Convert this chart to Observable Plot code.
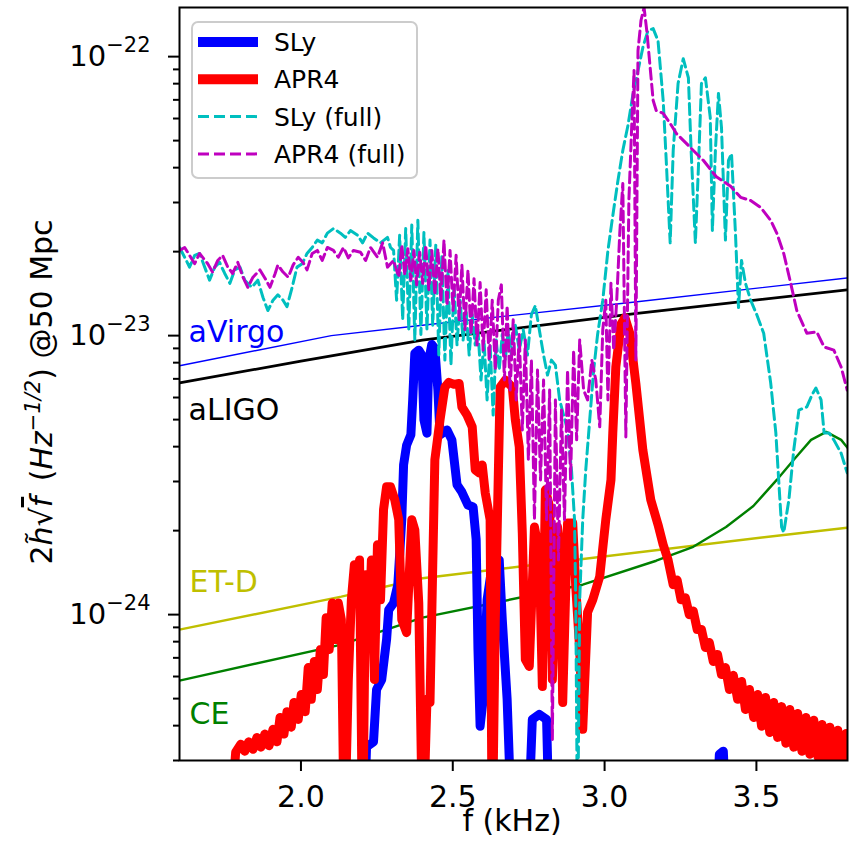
<!DOCTYPE html>
<html><head><meta charset="utf-8">
<script src="https://cdn.jsdelivr.net/npm/d3@7"></script>
<script src="https://cdn.jsdelivr.net/npm/@observablehq/plot@0.6"></script>
<style>
html,body{margin:0;padding:0;background:#fff;}
svg{display:block;}
</style>
</head><body><div id="chart"></div>
<script>
// strain values are stored in units of 1e-24; frequency in kHz
const UNIT = 1e-24;

const xTicks = [2.0, 2.5, 3.0, 3.5];
const yMajorTicks = [1e-24, 1e-23, 1e-22];
const yMinorTicks = [3e-25,4e-25,5e-25,6e-25,7e-25,8e-25,9e-25,
  2e-24,3e-24,4e-24,5e-24,6e-24,7e-24,8e-24,9e-24,
  2e-23,3e-23,4e-23,5e-23,6e-23,7e-23,8e-23,9e-23];

// detector sensitivity curves [f, h]
const aVirgo = [[1.6,7.8],[2.1,10.0],[2.4,10.9],[3.1,13.2],[3.8,16.1]];
const aLIGO = [[1.6,6.77],[2.0,8.1],[2.4,9.64],[3.1,12.0],[3.8,14.6]];
const etD = [[1.6,0.884],[2.133,1.16],[2.4,1.35],[3.59,1.93],[3.8,2.05]];
const ce = [[1.6,0.58],[2.133,0.781],[2.4,0.975],[2.928,1.28],[3.17,1.56],[3.292,1.75],[3.40,2.06],
  [3.49,2.45],[3.567,3.04],[3.623,3.59],[3.68,4.23],[3.73,4.52],[3.779,4.23],[3.812,3.82]];

// SLy (post-merger)
const sly = [[2.206,0.15],[2.216,0.336],[2.239,0.350],[2.249,0.539],[2.266,0.585],[2.282,0.814],[2.289,1.04],
  [2.305,1.10],[2.319,1.28],[2.332,2.19],[2.338,3.44],[2.348,4.05],[2.362,4.41],[2.368,5.88],[2.375,8.65],
  [2.388,8.87],[2.398,8.52],[2.405,4.99],[2.415,4.47],[2.421,8.17],[2.431,9.3],[2.441,9.0],[2.451,6.38],
  [2.458,4.41],[2.481,4.59],[2.497,4.23],[2.514,2.92],[2.530,2.75],[2.550,2.47],[2.567,2.43],[2.577,1.86],
  [2.583,0.750],[2.590,0.398],[2.600,0.497],[2.613,1.13],[2.630,1.51],[2.653,1.57],[2.663,0.96],[2.679,0.497],
  [2.696,0.15],[2.746,0.15],[2.762,0.421],[2.785,0.439],[2.809,0.421],[2.819,0.15],[3.365,0.15],[3.378,0.316],
  [3.391,0.324],[3.405,0.15]];

// APR4 (post-merger)
const apr4 = [[1.762,0.15],[1.785,0.321],[1.802,0.343],[1.815,0.324],[1.828,0.350],[1.842,0.329],[1.855,0.363],
  [1.868,0.335],[1.881,0.373],[1.895,0.339],[1.908,0.388],[1.921,0.350],[1.931,0.428],[1.944,0.373],[1.954,0.449],
  [1.968,0.395],[1.977,0.484],[1.991,0.421],[2.001,0.517],[2.014,0.449],[2.024,0.646],[2.034,0.497],[2.044,0.679],
  [2.054,0.539],[2.064,0.750],[2.074,0.610],[2.083,0.975],[2.093,0.750],[2.103,1.10],[2.113,0.814],[2.123,1.10],
  [2.133,0.96],[2.143,0.15],[2.156,0.585],[2.166,1.13],[2.176,1.51],[2.186,1.13],[2.193,1.57],[2.203,0.15],
  [2.213,1.39],[2.223,0.814],[2.232,1.57],[2.242,0.585],[2.252,1.78],[2.262,1.13],[2.272,2.38],[2.282,2.87],
  [2.295,2.87],[2.309,2.58],[2.322,2.19],[2.332,0.96],
  [2.348,0.862],[2.365,2.19],[2.375,2.01],[2.388,1.10],[2.401,0.15],[2.415,0.497],[2.425,0.484],[2.441,3.59],
  [2.458,4.99],[2.474,6.54],[2.487,6.80],[2.504,6.69],[2.521,6.74],[2.530,5.55],[2.547,5.19],[2.564,4.71],
  [2.574,3.30],[2.587,3.22],[2.597,3.44],[2.607,2.73],[2.623,2.19],[2.630,0.15],[2.640,0.96],[2.646,1.96],
  [2.656,6.54],[2.673,6.93],[2.696,6.54],[2.706,4.99],[2.719,3.99],[2.729,1.96],[2.739,0.690],[2.752,0.652],
  [2.769,2.06],[2.785,1.66],[2.795,0.552],[2.805,2.80],[2.819,2.43],[2.828,0.585],[2.845,2.06],[2.855,1.66],
  [2.862,0.484],[2.878,2.13],[2.895,2.13],[2.905,1.26],[2.918,0.750],[2.928,0.388],[2.944,1.02],[2.961,1.13],
  [2.984,1.37],[3.004,2.19],[3.021,3.04],[3.027,4.47],[3.037,7.72],[3.054,11.0],[3.067,11.6],[3.083,10.2],
  [3.103,6.74],[3.126,3.89],[3.152,2.58],[3.176,2.10],[3.193,1.78],[3.209,1.57],[3.226,1.28],[3.239,1.33],
  [3.252,1.13],[3.266,1.15],[3.279,1.00],[3.292,1.03],[3.305,0.884],[3.319,0.884],[3.332,0.762],[3.345,0.794],
  [3.358,0.679],[3.372,0.720],[3.385,0.610],[3.398,0.646],[3.411,0.539],[3.424,0.606],[3.438,0.497],[3.451,0.576],
  [3.464,0.457],[3.477,0.539],[3.491,0.428],[3.504,0.517],[3.517,0.398],[3.530,0.505],[3.544,0.378],[3.557,0.484],
  [3.570,0.363],[3.583,0.468],[3.597,0.346],[3.610,0.457],[3.623,0.335],[3.636,0.442],[3.650,0.324],[3.663,0.428],
  [3.676,0.316],[3.689,0.418],[3.703,0.309],[3.716,0.404],[3.729,0.303],[3.742,0.395],[3.755,0.296],[3.768,0.385],
  [3.782,0.290],[3.795,0.375],[3.812,0.285]];

// SLy (full waveform)
const slyFull = [[1.600,20.7],[1.617,19.1],[1.633,17.6],[1.650,19.4],[1.666,19.7],[1.683,17.6],[1.699,15.8],
  [1.716,17.6],[1.732,18.3],[1.749,16.7],[1.766,15.4],[1.782,17.2],[1.799,17.6],[1.815,15.8],[1.838,14.9],
  [1.858,15.8],[1.875,13.7],[1.891,12.3],[1.908,13.4],[1.924,14.0],[1.941,13.4],[1.954,12.7],[1.971,14.9],
  [1.987,17.6],[2.004,18.1],[2.020,19.7],[2.037,20.7],[2.054,22.0],[2.070,21.5],[2.087,23.3],[2.107,24.2],
  [2.130,23.3],[2.146,22.5],[2.163,23.8],[2.186,22.9],[2.203,21.5],[2.219,23.3],[2.239,22.4],[2.262,21.5],
  [2.285,22.5],[2.295,20.7],[2.305,20.2],[2.315,13.4],[2.325,22.9],[2.335,11.4],[2.345,24.2],[2.355,10.5],
  [2.365,24.9],[2.375,9.64],[2.385,25.9],[2.395,10.1],[2.405,23.4],[2.415,10.5],[2.425,22.0],[2.434,10.9],
  [2.444,21.1],[2.454,8.52],[2.464,19.4],[2.474,8.17],[2.484,17.2],[2.494,7.84],[2.504,15.2],[2.514,9.25],
  [2.524,13.4],[2.534,9.64],[2.544,12.3],[2.554,8.52],[2.564,11.9],[2.574,9.25],[2.583,10.5],[2.593,6.93],
  [2.603,9.64],[2.613,5.88],[2.623,9.25],[2.633,5.19],[2.643,9.64],[2.653,7.53],[2.663,10.1],[2.673,8.17],
  [2.683,10.5],[2.693,8.52],[2.706,10.9],[2.719,8.87],[2.732,10.5],[2.746,8.52],[2.759,11.9],[2.772,12.8],
  [2.785,10.5],[2.799,8.52],[2.812,7.22],[2.825,8.17],[2.838,7.84],[2.852,5.88],[2.865,5.19],[2.878,4.59],
  [2.891,3.30],[2.901,2.19],[2.905,1.13],[2.911,0.15],[2.918,1.13],[2.928,2.19],[2.938,3.30],[2.951,4.99],
  [2.964,7.53],[2.977,10.1],[2.994,13.4],[3.011,20.2],[3.027,26.9],[3.044,36.0],[3.060,46.1],[3.077,56.7],
  [3.093,72.8],[3.110,89.1],[3.127,109],[3.143,124],[3.160,126],[3.176,114],[3.193,69.6],[3.203,42.5],
  [3.216,21.5],[3.226,46.1],[3.242,80.1],[3.259,98.3],[3.276,84.0],[3.285,46.1],[3.299,21.5],[3.309,40.1],
  [3.319,80.1],[3.332,84.0],[3.348,60.6],[3.355,23.8],[3.365,46.1],[3.375,73.8],[3.385,55.7],[3.398,22.0],
  [3.408,42.5],[3.418,44.9],[3.431,23.3],[3.441,12.6],[3.451,18.6],[3.464,15.4],[3.481,13.4],[3.501,11.9],
  [3.524,10.2],[3.547,6.77],[3.564,4.48],[3.574,2.96],[3.583,2.06],[3.590,1.97],[3.607,2.58],[3.623,3.89],
  [3.640,5.41],[3.666,5.55],[3.683,6.13],[3.696,6.49],[3.713,5.88],[3.723,4.48],[3.739,4.48],[3.755,4.23],
  [3.779,3.79],[3.799,3.22],[3.815,3.59]];

// APR4 (full waveform)
const apr4Full = [[1.600,20.2],[1.617,20.7],[1.633,19.4],[1.650,18.1],[1.666,19.7],[1.693,18.1],[1.709,16.9],
  [1.726,18.6],[1.742,19.4],[1.759,17.6],[1.775,16.7],[1.792,18.3],[1.809,16.2],[1.825,14.9],[1.842,16.2],
  [1.865,17.2],[1.881,16.1],[1.898,14.9],[1.915,16.7],[1.924,17.9],[1.941,16.9],[1.958,16.2],[1.974,17.9],
  [1.991,19.1],[2.007,18.3],[2.020,17.2],[2.037,19.7],[2.054,20.2],[2.070,18.6],[2.087,20.7],[2.107,20.2],
  [2.123,19.1],[2.140,20.7],[2.156,19.0],[2.173,20.2],[2.196,19.9],[2.213,18.6],[2.229,20.7],[2.252,19.1],
  [2.269,21.5],[2.285,17.6],[2.305,18.6],[2.322,16.2],[2.332,21.1],[2.342,16.5],[2.352,20.5],[2.362,15.8],
  [2.372,20.2],[2.381,15.2],[2.391,19.9],[2.401,15.4],[2.411,21.1],[2.421,14.6],[2.431,20.2],[2.441,14.0],
  [2.451,20.5],[2.461,13.4],[2.471,22.0],[2.481,12.8],[2.491,20.2],[2.501,12.3],[2.511,19.4],[2.521,11.4],
  [2.530,17.9],[2.540,10.5],[2.550,17.2],[2.560,10.1],[2.570,16.0],[2.580,9.25],[2.590,15.5],[2.600,8.87],
  [2.610,14.6],[2.620,8.17],[2.630,13.4],[2.640,7.53],[2.650,13.4],[2.660,15.2],[2.670,6.93],[2.679,12.8],
  [2.689,6.38],[2.699,11.4],[2.709,5.88],[2.719,10.1],[2.729,4.59],[2.739,9.64],[2.749,3.59],[2.759,8.17],
  [2.769,2.19],[2.779,7.53],[2.789,3.04],[2.799,6.93],[2.809,2.19],[2.819,6.38],[2.828,0.357],[2.838,5.88],
  [2.848,1.57],[2.858,5.41],[2.868,2.19],[2.878,7.53],[2.888,3.04],[2.898,8.87],[2.908,4.23],[2.918,9.64],
  [2.931,6.38],[2.944,5.88],[2.958,8.17],[2.971,6.93],[2.984,4.71],[2.994,10.5],[3.004,13.4],[3.011,5.88],
  [3.021,15.4],[3.030,8.87],[3.040,13.4],[3.050,23.3],[3.060,35.1],[3.070,4.33],[3.080,30.5],[3.090,59.0],
  [3.097,89.1],[3.103,8.17],[3.110,105],[3.120,135],[3.130,150],[3.140,121],[3.150,91.4],[3.160,69.6],
  [3.170,64.1],[3.193,62.6],[3.216,57.6],[3.236,53.1],[3.282,47.3],[3.325,42.5],[3.368,37.1],[3.415,34.3],
  [3.448,31.3],[3.481,30.5],[3.514,28.8],[3.547,25.9],[3.567,23.3],[3.590,19.7],[3.613,15.4],[3.633,12.3],
  [3.666,10.2],[3.699,10.3],[3.723,9.11],[3.755,8.87],[3.779,7.72],[3.799,6.38],[3.812,6.22]];

const seriesNames = ["SLy", "APR4", "SLy (full)", "APR4 (full)"];
const seriesColors = ["#0000ff", "#ff0000", "#00bfbf", "#bf00bf"];

const detectorNames = ["aVirgo", "aLIGO", "ET-D", "CE"];
const detectorColors = ["#0000ff", "#000000", "#bfbf00", "#008000"];
const detectorLabelF = [1.63, 1.63, 1.633, 1.633];
const detectorLabelH = [9.49, 4.99, 1.21, 0.404];

const toRows = (pairs) => pairs.map(([f, v]) => ({f, h: v * UNIT}));

const lineOpts = (color, w, dash) => ({x: "f", y: "h", stroke: color, strokeWidth: w,
  strokeDasharray: dash, clip: true, curve: "linear"});

const svg = Plot.plot({
  width: 849, height: 841,
  marginLeft: 179, marginRight: 2, marginTop: 7, marginBottom: 81,
  style: {fontFamily: "'DejaVu Sans', sans-serif", background: "white", color: "black", overflow: "visible"},
  x: {domain: [1.6, 3.8]},
  y: {type: "log", domain: [3e-25, 1.5e-22]},
  marks: [
    Plot.line(toRows(aVirgo), lineOpts(detectorColors[0], 1.4)),
    Plot.line(toRows(aLIGO), lineOpts(detectorColors[1], 2.8)),
    Plot.line(toRows(etD), lineOpts(detectorColors[2], 2.4)),
    Plot.line(toRows(ce), lineOpts(detectorColors[3], 2.4)),
    Plot.line(toRows(sly), {...lineOpts(seriesColors[0], 9), strokeLinejoin: "round"}),
    Plot.line(toRows(apr4), {...lineOpts(seriesColors[1], 9), strokeLinejoin: "round"}),
    Plot.line(toRows(slyFull), lineOpts(seriesColors[2], 3, "11,5")),
    Plot.line(toRows(apr4Full), lineOpts(seriesColors[3], 3, "11,5")),
    ...detectorNames.map((name, i) => Plot.text([name], {
      x: () => detectorLabelF[i], y: () => detectorLabelH[i] * UNIT, text: d => d,
      fill: detectorColors[i], fontSize: 30, textAnchor: "start", lineAnchor: "bottom"
    })),
    Plot.axisX({ticks: xTicks, tickSize: 11, tickPadding: 14, strokeWidth: 2, fontSize: 30,
      tickFormat: d => d.toFixed(1), label: null}),
    Plot.axisY({ticks: yMinorTicks, tickSize: 6, strokeWidth: 2, tickFormat: () => "", label: null}),
    Plot.axisY({ticks: yMajorTicks, tickSize: 11, tickPadding: 18, strokeWidth: 2, fontSize: 29,
      tickFormat: d => String(Math.round(Math.log10(d))), label: null}),
    Plot.frame({stroke: "black", strokeWidth: 2})
  ]
});

const root = d3.select(svg);

// y tick labels as 10^k with superscript
root.selectAll('g[aria-label="y-axis tick label"] text').each(function() {
  const t = this.textContent;
  if (!t) return;
  const exp = t.replace("-", "\u2212");
  const sel = d3.select(this);
  sel.text(null);
  sel.append("tspan").text("10");
  sel.append("tspan").attr("font-size", 21).attr("dy", -14).text(exp);
});

// x axis label
root.append("text")
  .attr("x", 512).attr("y", 831)
  .attr("text-anchor", "middle")
  .attr("font-size", 30)
  .attr("fill", "black")
  .text("f (kHz)");

// y axis label (math text)
const yl = root.append("text")
  .attr("transform", "translate(52,392) rotate(-90)")
  .attr("text-anchor", "middle")
  .attr("font-size", 30)
  .attr("fill", "black");
yl.append("tspan").text("2");
yl.append("tspan").attr("font-style", "italic").text("h\u0303");
yl.append("tspan").text("\u221A");
yl.append("tspan").attr("font-style", "italic").attr("text-decoration", "overline").text("f");
yl.append("tspan").text("\u2009 (");
yl.append("tspan").attr("font-style", "italic").text("Hz");
yl.append("tspan").attr("font-style", "italic").attr("font-size", 21).attr("dy", -12).text("\u22121/2");
yl.append("tspan").attr("dy", 12).text(") @50 Mpc");

// legend
const lg = root.append("g").attr("transform", "translate(192,22)");
lg.append("rect").attr("width", 225).attr("height", 156).attr("rx", 6)
  .attr("fill", "white").attr("fill-opacity", 0.85).attr("stroke", "#cccccc").attr("stroke-width", 2);
const legendWidths = [10, 10, 3, 3];
const legendDash = [null, null, "11,5", "11,5"];
seriesNames.forEach((name, i) => {
  const yy = 20 + i * 37.3;
  lg.append("line").attr("x1", 6).attr("x2", 66).attr("y1", yy).attr("y2", yy)
    .attr("stroke", seriesColors[i]).attr("stroke-width", legendWidths[i])
    .attr("stroke-dasharray", legendDash[i]);
  lg.append("text").attr("x", 82).attr("y", yy).attr("dy", "0.36em")
    .attr("text-anchor", "start")
    .attr("font-size", 25).attr("fill", "black").text(name);
});

document.getElementById("chart").appendChild(svg);
</script>
</body></html>
